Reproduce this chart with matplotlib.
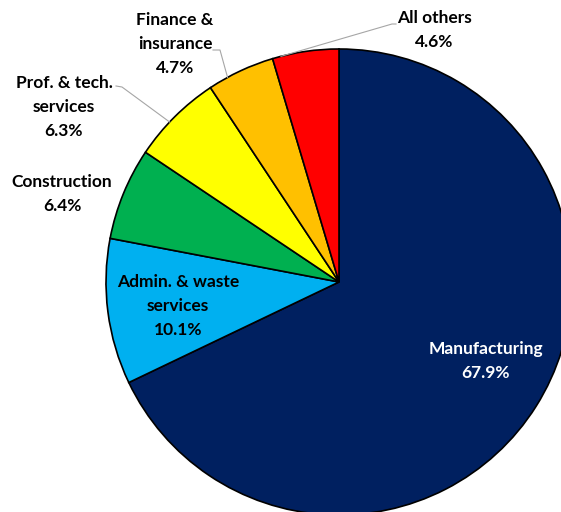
import numpy as np
import matplotlib.pyplot as plt

# share of total by industry
labels = ['Manufacturing', 'Admin. & waste\nservices', 'Construction',
          'Prof. & tech.\nservices', 'Finance &\ninsurance', 'All others']
shares = [67.9, 10.1, 6.4, 6.3, 4.7, 4.6]
colors = ['#002060', '#00B0F0', '#00B050', '#FFFF00', '#FFC000', '#FF0000']

# label placement (pixels, y down); leader lines: elbow start + where on the wedge arc
label_xy = [(486, 361), (178, 306), (62, 194), (64, 107), (175, 44), (434, 30)]
leader_pts = [None, None, None, [(116, 86), (122, 87)], [(213, 50), (220, 50)],
              [(396, 24), (392, 24)]]
attach = [None, None, None, 0.42, 0.29, 0.13]

W, H = 561, 512
cx, cy, R = 339, 282, 233

fig = plt.figure(figsize=(W / 100, H / 100), dpi=100)
ax = fig.add_axes([0, 0, 1, 1])

# pie drawn in flipped coords: clockwise on screen means counterclock in data
wedges, _ = ax.pie(shares, colors=colors, startangle=-90, counterclock=True,
                   center=(cx, cy), radius=R, frame=True,
                   wedgeprops=dict(edgecolor='black', linewidth=1.2))
ax.set_xlim(0, W)
ax.set_ylim(H, 0)
ax.set_aspect('equal')
ax.axis('off')

font = ['Lato', 'DejaVu Sans']
for i, w in enumerate(wedges):
    tx, ty = label_xy[i]
    col = 'white' if i == 0 else 'black'
    ax.text(tx, ty, f'{labels[i]}\n{shares[i]:.1f}%', ha='center', va='center',
            fontsize=12.5, fontweight='bold', color=col, family=font,
            linespacing=1.6)
    if leader_pts[i] is not None:
        th = np.deg2rad(w.theta1 + attach[i] * (w.theta2 - w.theta1))
        ex, ey = cx + R * np.cos(th), cy + R * np.sin(th)
        xs, ys = zip(*(leader_pts[i] + [(ex, ey)]))
        ax.plot(xs, ys, color='#A6A6A6', linewidth=0.8)

fig.savefig('out.png', dpi=100)
